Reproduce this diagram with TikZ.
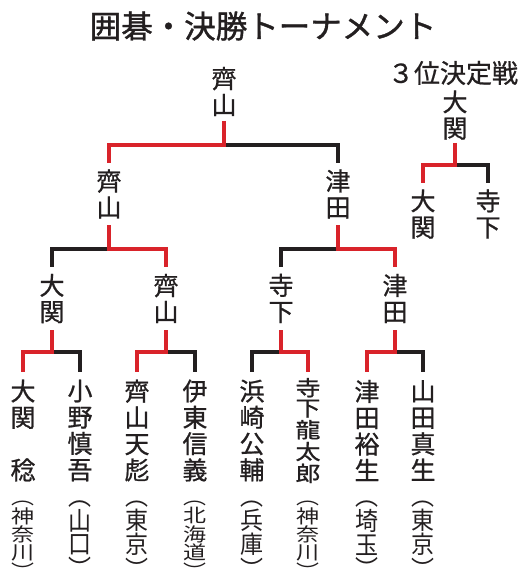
\documentclass[tikz,border=0pt]{standalone}
\usepackage{fontspec}
\usepackage{graphicx}
\newfontfamily\cjk[FakeBold=0.8]{Noto Sans CJK JP}
\newfontfamily\cjkt[FakeBold=1.2]{Noto Sans CJK JP}
\newfontfamily\cjkl{Noto Sans CJK JP}
\definecolor{wred}{RGB}{217,35,42}
\definecolor{ink}{RGB}{35,31,32}
\newcommand\pk[1]{\hbox to 1em{\hss#1\hss}}
\newcommand\pg{\kern1.5pt}
\newcommand\prefbox[1]{\resizebox*{23pt}{77pt}{\vbox{\offinterlineskip #1}}}
\newcommand\namebox[1]{\resizebox*{25pt}{105pt}{\vbox{\offinterlineskip #1}}}
\tikzset{
  rl/.style={draw=wred, line width=3.4pt},
  bl/.style={draw=ink, line width=3.4pt},
  nm/.style={text=ink, inner sep=0pt, outer sep=0pt, align=center,
    font=\cjk\fontsize{25}{26.3}\selectfont},
  pref/.style={text=ink, inner sep=0pt, outer sep=0pt,
    font=\cjkl\fontsize{20}{20}\selectfont},
  ttl/.style={text=ink, inner sep=0pt, font=\cjkt\fontsize{31.5}{31.5}\selectfont},
  sub/.style={text=ink, inner sep=0pt, font=\cjk\fontsize{26}{26}\selectfont},
}
\begin{document}
\begin{tikzpicture}[x=1pt,y=-1pt]
\fill[white] (0,0) rectangle (524,585);
\useasboundingbox (0,0) rectangle (524,585);

\node[ttl] (title) at (263,26) {囲碁・決勝トーナメント};
\node[sub] (third) at (453,73) {３位決定戦};

% final
\node[nm, minimum height=59] (f) at (224,91.5) {齊\\山};
\node[nm, minimum height=62] (s1) at (109,194) {齊\\山};
\node[nm, minimum height=62] (s2) at (338,194) {津\\田};
% 3rd place
\node[nm, minimum height=56] (t) at (455,115) {大\\関};
\node[nm, minimum height=62] (t1) at (423,214) {大\\関};
\node[nm, minimum height=62] (t2) at (488,214) {寺\\下};
% quarter
\node[nm, minimum height=63] (q1) at (52,298.5) {大\\関};
\node[nm, minimum height=63] (q2) at (166,298.5) {齊\\山};
\node[nm, minimum height=63] (q3) at (281,298.5) {寺\\下};
\node[nm, minimum height=63] (q4) at (395,298.5) {津\\田};
% players
\node[nm, minimum height=117] (p1) at (23,430.5) {大\\関\\　\\稔};
\node[nm, minimum height=117] (p2) at (80,430.5) {小\\野\\慎\\吾};
\node[nm, minimum height=117] (p3) at (137,430.5) {齊\\山\\天\\彪};
\node[nm, minimum height=117] (p4) at (195,430.5) {伊\\東\\信\\義};
\node[nm, minimum height=117] (p5) at (252,430.5) {浜\\崎\\公\\輔};
\node[nm, minimum height=117] (p6) at (308,430.5) {\namebox{\pk{寺}\kern3pt\pk{下}\kern3pt\pk{龍}\kern3pt\pk{太}\kern3pt\pk{郎}}};
\node[nm, minimum height=117] (p7) at (367,430.5) {津\\田\\裕\\生};
\node[nm, minimum height=117] (p8) at (423,430.5) {山\\田\\真\\生};
% prefectures
\node[pref] (r1) at (23.5,539.5) {\prefbox{\pk{︵}\pg\pk{神}\pg\pk{奈}\pg\pk{川}\pg\pk{︶}}};
\node[pref] (r2) at (80,539.5) {\prefbox{\pk{︵}\pg\pk{山}\pg\pk{口}\pg\pk{︶}}};
\node[pref] (r3) at (137,539.5) {\prefbox{\pk{︵}\pg\pk{東}\pg\pk{京}\pg\pk{︶}}};
\node[pref] (r4) at (195,539.5) {\prefbox{\pk{︵}\pg\pk{北}\pg\pk{海}\pg\pk{道}\pg\pk{︶}}};
\node[pref] (r5) at (252,539.5) {\prefbox{\pk{︵}\pg\pk{兵}\pg\pk{庫}\pg\pk{︶}}};
\node[pref] (r6) at (308,539.5) {\prefbox{\pk{︵}\pg\pk{神}\pg\pk{奈}\pg\pk{川}\pg\pk{︶}}};
\node[pref] (r7) at (367,539.5) {\prefbox{\pk{︵}\pg\pk{埼}\pg\pk{玉}\pg\pk{︶}}};
\node[pref] (r8) at (423,539.5) {\prefbox{\pk{︵}\pg\pk{東}\pg\pk{京}\pg\pk{︶}}};

% junctions
\coordinate (jF) at (224,145);
\coordinate (jT) at (455,165);
\coordinate (jS1) at (109,249);
\coordinate (jS2) at (338,249);
\coordinate (jQ1) at (52,352);
\coordinate (jQ2) at (166,352);
\coordinate (jQ3) at (281,352);
\coordinate (jQ4) at (395,352);

% black (losers) first
\draw[bl] (jF) -| (s2.north);
\draw[bl] (jT) -| (t2.north);
\draw[bl] (jS1) -| (q1.north);
\draw[bl] (jS2) -| (q3.north);
\draw[bl] (jQ1) -| (p2.north);
\draw[bl] (jQ2) -| (p4.north);
\draw[bl] (jQ3) -| (p5.north);
\draw[bl] (jQ4) -| (p8.north);
% red (winners)
\draw[rl] (f.south) -- (jF) -| (s1.north);
\draw[rl] (t.south) -- (jT) -| (t1.north);
\draw[rl] (s1.south) -- (jS1) -| (q2.north);
\draw[rl] (s2.south) -- (jS2) -| (q4.north);
\draw[rl] (q1.south) -- (jQ1) -| (p1.north);
\draw[rl] (q2.south) -- (jQ2) -| (p3.north);
\draw[rl] (q3.south) -- (jQ3) -| (p6.north);
\draw[rl] (q4.south) -- (jQ4) -| (p7.north);
\end{tikzpicture}
\end{document}
